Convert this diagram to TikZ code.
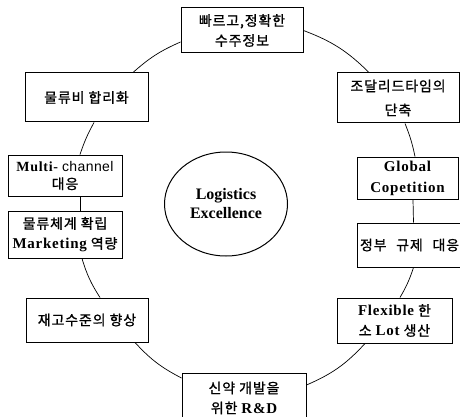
\documentclass[tikz,border=0pt]{standalone}
\usepackage{fontspec}
\setmainfont{Liberation Serif}
\newfontfamily\korfont[LetterSpace=6,FakeBold=1]{Noto Sans CJK KR}
\newfontfamily\latfont[LetterSpace=5]{Liberation Serif}
\newfontfamily\chanfont[LetterSpace=3]{Liberation Sans}
\usetikzlibrary{shapes.geometric}
\tikzset{
  box/.style={draw, line width=1pt, fill=white, inner sep=0pt, align=center,
    font=\korfont\fontsize{14}{20}\selectfont},
  ring/.style={line width=0.7pt},
}
\newcommand{\lb}[1]{{\latfont\bfseries\fontsize{15}{20}\selectfont #1}}
\begin{document}
\begin{tikzpicture}[x=1pt,y=-1pt]
\useasboundingbox (0,0) rectangle (460,417);
\node[box, minimum width=122pt, minimum height=45pt] (top) at (242,30.5) {빠르고,정확한\\수주정보};
\node[box, minimum width=122pt, minimum height=50pt] (tr) at (398,98) {조달리드타임의\\[4pt]단축};
\node[box, minimum width=123pt, minimum height=49pt] (tl) at (86.5,97.5) {물류비 합리화};
\node[box, minimum width=114pt, minimum height=41pt] (ml1) at (65,175.5) {{\latfont\bfseries\fontsize{14}{20}\selectfont Multi-} {\chanfont\fontsize{14}{20}\selectfont channel}\\[-2pt]대응};
\node[box, minimum width=114pt, minimum height=47pt] (ml2) at (65,234.5) {물류체계 확립\\\lb{Marketing} 역량};
\node[ellipse, draw, line width=1pt, minimum width=123pt, minimum height=104pt, inner sep=0pt,
  align=center, font=\bfseries\fontsize{16}{19}\selectfont] (core) at (226,204) {Logistics\\Excellence};
\node[box, minimum width=101pt, minimum height=42pt] (mr1) at (407.5,178) {\lb{Global}\\[1pt]\lb{Copetition}};
\node[box, anchor=west, text width=112pt, align=left, inner xsep=2.5pt, minimum height=44pt] (mr2) at (357,245) {정부\hspace{5pt} 규제\hspace{5pt} 대응};
\node[box, minimum width=122pt, minimum height=44pt] (bl) at (87,320) {재고수준의 향상};
\node[box, minimum width=115pt, minimum height=45pt] (br) at (394.5,320.5) {\lb{Flexible} 한\\소 \lb{Lot} 생산};
\node[box, minimum width=124pt, minimum height=50pt] (bot) at (244,398) {신약 개발을\\위한 \lb{R\&D}};
\draw[ring] (top.east) to[bend left=12] ([xshift=-29pt]tr.north);
\draw[ring] ([xshift=7pt]tr.south) to[bend left=5] ([xshift=7.5pt]mr1.north);
\draw[ring] ([xshift=5.5pt]mr1.south) -- ([xshift=-2.5pt]mr2.north);
\draw[ring] ([xshift=-2.5pt]mr2.south) to[bend left=6] ([xshift=5.5pt]br.north);
\draw[ring] ([xshift=-29.5pt]br.south) to[bend left=12] ([yshift=13pt]bot.east);
\draw[ring] ([yshift=20pt]bot.west) to[bend left=10] ([xshift=48pt]bl.south);
\draw[ring] ([xshift=13pt]bl.north) to[bend left=8] ([xshift=17pt]ml2.south);
\draw[ring] ([xshift=15pt]ml2.north) -- ([xshift=15pt]ml1.south);
\draw[ring] ([xshift=15pt]ml1.north) to[bend left=5] ([xshift=7.5pt]tl.south);
\draw[ring] ([xshift=46.5pt]tl.north) to[bend left=9] ([yshift=-11.5pt]top.west);
\end{tikzpicture}
\end{document}
